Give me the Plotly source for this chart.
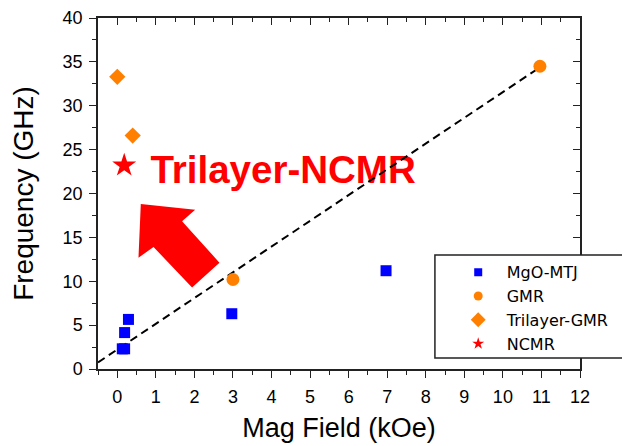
import plotly.graph_objects as go

# ---- data ----
mtj_x = [0.13, 0.19, 0.19, 0.29, 2.97, 6.97]
mtj_y = [2.3, 2.3, 4.15, 5.65, 6.3, 11.2]
gmr_x = [3.0, 10.96]
gmr_y = [10.2, 34.5]
tri_x = [0.0, 0.4]
tri_y = [33.3, 26.6]
ncmr_x = [0.18]
ncmr_y = [23.2]
fit_x = [-0.5, 10.9]
fit_y = [0.75, 34.2]
arrow_x = [0.61, 2.02, 1.68, 2.65, 1.94, 0.94, 0.55, 0.61]
arrow_y = [18.8, 18.16, 16.84, 12.12, 9.3, 13.9, 12.69, 18.8]
label_text = ["Trilayer-NCMR"]
label_x = [0.86]
label_y = [22.25]
x_ticks = list(range(0, 13))
y_ticks = list(range(0, 45, 5))

BLUE = "#0000FF"
ORANGE = "#FF8000"
RED = "#FF0000"
FONT = "Arial, Liberation Sans, sans-serif"

fig = go.Figure()

# arrow
fig.add_trace(go.Scatter(x=arrow_x, y=arrow_y, mode="lines", fill="toself",
                         fillcolor=RED, line=dict(width=0, color=RED),
                         showlegend=False, hoverinfo="skip"))
# big label
fig.add_trace(go.Scatter(x=label_x, y=label_y, mode="text", text=label_text,
                         textposition="middle right",
                         textfont=dict(family=FONT, size=38.5, color=RED, weight="bold"),
                         showlegend=False, hoverinfo="skip"))
# dashed fit line
fig.add_trace(go.Scatter(x=fit_x, y=fit_y, mode="lines",
                         line=dict(color="black", width=2, dash="8px,5px"),
                         showlegend=False, hoverinfo="skip"))
# data markers
fig.add_trace(go.Scatter(x=mtj_x, y=mtj_y, mode="markers",
                         marker=dict(symbol="square", size=11, color=BLUE),
                         showlegend=False))
fig.add_trace(go.Scatter(x=gmr_x, y=gmr_y, mode="markers",
                         marker=dict(symbol="circle", size=13, color=ORANGE),
                         showlegend=False))
fig.add_trace(go.Scatter(x=tri_x, y=tri_y, mode="markers",
                         marker=dict(symbol="diamond", size=12.5, color=ORANGE),
                         showlegend=False))
fig.add_trace(go.Scatter(x=ncmr_x, y=ncmr_y, mode="markers",
                         marker=dict(symbol="star", size=18, color=RED),
                         showlegend=False))

# legend entries
fig.add_trace(go.Scatter(x=[None], y=[None], mode="markers", name="MgO-MTJ",
                         marker=dict(symbol="square", size=8, color=BLUE)))
fig.add_trace(go.Scatter(x=[None], y=[None], mode="markers", name="GMR",
                         marker=dict(symbol="circle", size=9, color=ORANGE)))
fig.add_trace(go.Scatter(x=[None], y=[None], mode="markers", name="Trilayer-GMR",
                         marker=dict(symbol="diamond", size=11.5, color=ORANGE)))
fig.add_trace(go.Scatter(x=[None], y=[None], mode="markers", name="NCMR",
                         marker=dict(symbol="star", size=9, color=RED)))

# dummy trace for mirrored axes
fig.add_trace(go.Scatter(x=[None], y=[None], xaxis="x2", yaxis="y2",
                         showlegend=False, hoverinfo="skip"))

axis_common = dict(showgrid=False, zeroline=False, showline=True,
                   linecolor="#222", linewidth=1.5, tickcolor="#222",
                   tickwidth=1.2, ticklen=7)

# page body has an 8px margin: compensate so the plot area sits at ~98..580 x 18..369
fig.update_layout(
    width=630, height=446,
    margin=dict(l=90, r=58, t=10, b=85, autoexpand=False),
    paper_bgcolor="white", plot_bgcolor="white",
    font=dict(family=FONT, color="black"),
    xaxis=dict(range=[-0.5, 12], tickvals=x_ticks, ticks="outside",
               tickfont=dict(size=18, family=FONT, color="black"),
               minor=dict(dtick=0.5, tick0=0, ticks="outside", ticklen=4,
                          tickcolor="#222", tickwidth=1.2),
               title=dict(text="Mag Field (kOe)", font=dict(size=27, family=FONT),
                          standoff=12),
               ticklabelstandoff=4, ticklabeloverflow="allow",
               **axis_common),
    yaxis=dict(range=[0, 40], tickvals=y_ticks, ticks="outside",
               tickfont=dict(size=18, family=FONT, color="black"),
               minor=dict(dtick=2.5, tick0=0, ticks="outside", ticklen=4,
                          tickcolor="#222", tickwidth=1.2),
               title=dict(text="Frequency (GHz)", font=dict(size=28, family=FONT),
                          standoff=22),
               ticklabelstandoff=3, ticklabeloverflow="allow",
               **axis_common),
    xaxis2=dict(range=[-0.5, 12], overlaying="x", side="top", anchor="y2",
                tickvals=x_ticks, ticks="inside", showticklabels=False,
                minor=dict(dtick=0.5, tick0=0, ticks="inside", ticklen=4,
                           tickcolor="#222", tickwidth=1.2),
                **axis_common),
    yaxis2=dict(range=[0, 40], overlaying="y", side="right", anchor="x2",
                tickvals=y_ticks, ticks="inside", showticklabels=False,
                minor=dict(dtick=2.5, tick0=0, ticks="inside", ticklen=4,
                           tickcolor="#222", tickwidth=1.2),
                **axis_common),
    legend=dict(x=0.7297, y=0.324, xanchor="left", yanchor="top",
                bgcolor="rgba(0,0,0,0)", borderwidth=0, itemwidth=47,
                font=dict(family="DejaVu Sans, sans-serif", size=16, color="black"),
                traceorder="normal"),
    shapes=[dict(type="rect", xref="paper", yref="paper",
                 x0=0.699, x1=1.15, y0=0.031, y1=0.325,
                 line=dict(color="#222", width=1.5), fillcolor="white",
                 layer="above")],
    showlegend=True,
)

fig.write_html("out.html")
